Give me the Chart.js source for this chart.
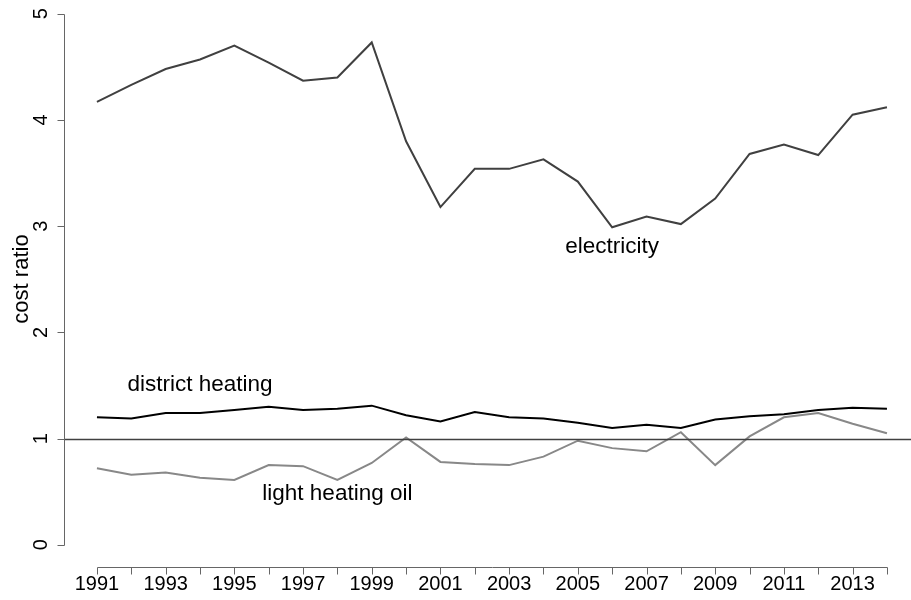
<!DOCTYPE html>
<html>
<head>
<meta charset="utf-8">
<script src="https://cdn.jsdelivr.net/npm/chart.js@4"></script>
<style>
  html, body { margin: 0; padding: 0; background: #fff; }
  #wrap { width: 911px; height: 600px; }
</style>
</head>
<body>
<div id="wrap"><canvas id="cost"></canvas></div>
<script>
//Data
var years = [1991,1992,1993,1994,1995,1996,1997,1998,1999,2000,2001,2002,
	2003,2004,2005,2006,2007,2008,2009,2010,2011,2012,2013,2014];
var electricity = [4.17,4.33,4.48,4.57,4.70,4.54,4.37,4.40,4.73,3.80,3.18,3.54,
	3.54,3.63,3.42,2.99,3.09,3.02,3.26,3.68,3.77,3.67,4.05,4.12];
var districtHeating = [1.20,1.19,1.24,1.24,1.27,1.30,1.27,1.28,1.31,1.22,1.16,1.25,
	1.20,1.19,1.15,1.10,1.13,1.10,1.18,1.21,1.23,1.27,1.29,1.28];
var lightOil = [0.72,0.66,0.68,0.63,0.61,0.75,0.74,0.61,0.77,1.01,0.78,0.76,
	0.75,0.83,0.98,0.91,0.88,1.06,0.75,1.02,1.20,1.24,1.14,1.05];
var yTicks = [0,1,2,3,4,5];
var xLabelYears = [1991,1993,1995,1997,1999,2001,2003,2005,2007,2009,2011,2013];
var refLine = 1;
var labels = [
	{text: 'electricity', x: 2006, y: 2.81},
	{text: 'district heating', x: 1994, y: 1.51},
	{text: 'light heating oil', x: 1998, y: 0.48}
];

var FAMILY = '"Liberation Sans", Arial, sans-serif';

function pts(vals) {
	var out = [];
	for (var i = 0; i < years.length; i++) {
		out.push({x: years[i], y: vals[i]});
	}
	return out;
}

//Base-graphics style axes, drawn from the chart scales
var axesPlugin = {
	id: 'baseAxes',
	afterDatasetsDraw: function(chart) {
		var ctx = chart.ctx;
		var xs = chart.scales.x;
		var ys = chart.scales.y;
		var area = chart.chartArea;
		ctx.save();

		//reference line at 1
		ctx.strokeStyle = '#404040';
		ctx.lineWidth = 1.5;
		ctx.beginPath();
		var yr = Math.round(ys.getPixelForValue(refLine)) + 0.5;
		ctx.moveTo(area.left, yr);
		ctx.lineTo(area.right, yr);
		ctx.stroke();

		ctx.strokeStyle = '#666';
		ctx.lineWidth = 1;
		ctx.fillStyle = '#000';
		ctx.font = '20px ' + FAMILY;

		//y axis
		var ax = 64.5;
		ctx.beginPath();
		ctx.moveTo(ax, Math.round(ys.getPixelForValue(yTicks[0])) + 0.5);
		ctx.lineTo(ax, Math.round(ys.getPixelForValue(yTicks[yTicks.length-1])) + 0.5);
		for (var i = 0; i < yTicks.length; i++) {
			var py = Math.round(ys.getPixelForValue(yTicks[i])) + 0.5;
			ctx.moveTo(ax, py);
			ctx.lineTo(ax - 7, py);
		}
		ctx.stroke();
		ctx.textAlign = 'center';
		ctx.textBaseline = 'middle';
		for (var i = 0; i < yTicks.length; i++) {
			ctx.save();
			ctx.translate(41, ys.getPixelForValue(yTicks[i]));
			ctx.rotate(-Math.PI / 2);
			ctx.fillText(String(yTicks[i]), 0, 0);
			ctx.restore();
		}
		ctx.save();
		ctx.font = '22px ' + FAMILY;
		ctx.translate(22, 279);
		ctx.rotate(-Math.PI / 2);
		ctx.fillText('cost ratio', 0, 0);
		ctx.restore();

		//x axis
		var ay = 567.5;
		ctx.beginPath();
		ctx.moveTo(Math.round(xs.getPixelForValue(years[0])) + 0.5, ay);
		ctx.lineTo(Math.round(xs.getPixelForValue(years[years.length-1])) + 0.5, ay);
		for (var i = 0; i < years.length; i++) {
			var px = Math.round(xs.getPixelForValue(years[i])) + 0.5;
			ctx.moveTo(px, ay);
			ctx.lineTo(px, ay + 7);
		}
		ctx.stroke();
		for (var i = 0; i < xLabelYears.length; i++) {
			ctx.fillText(String(xLabelYears[i]), xs.getPixelForValue(xLabelYears[i]), 584);
		}

		//series labels
		ctx.font = '22.5px ' + FAMILY;
		for (var i = 0; i < labels.length; i++) {
			ctx.fillText(labels[i].text, xs.getPixelForValue(labels[i].x), ys.getPixelForValue(labels[i].y));
		}
		ctx.restore();
	}
};

var costchart = new Chart(document.getElementById('cost'), {
	type: 'line',
	data: {
		datasets: [{
			label: 'electricity',
			data: pts(electricity),
			borderColor: '#404040',
			borderWidth: 2,
			pointRadius: 0,
			tension: 0
		},{
			label: 'district heating',
			data: pts(districtHeating),
			borderColor: '#000000',
			borderWidth: 2,
			pointRadius: 0,
			tension: 0
		},{
			label: 'light heating oil',
			data: pts(lightOil),
			borderColor: '#888888',
			borderWidth: 2,
			pointRadius: 0,
			tension: 0
		}]
	},
	options: {
		responsive: true,
		maintainAspectRatio: false,
		animation: false,
		layout: {
			padding: {left: 65, right: 0, top: 0, bottom: 34}
		},
		scales: {
			x: {
				type: 'linear',
				display: false,
				min: 1990.07,
				max: 2014.70
			},
			y: {
				display: false,
				min: -0.2,
				max: 5.13
			}
		},
		plugins: {
			legend: {display: false},
			tooltip: {enabled: false}
		}
	}
	,
	plugins: [axesPlugin]
});
</script>
</body>
</html>
